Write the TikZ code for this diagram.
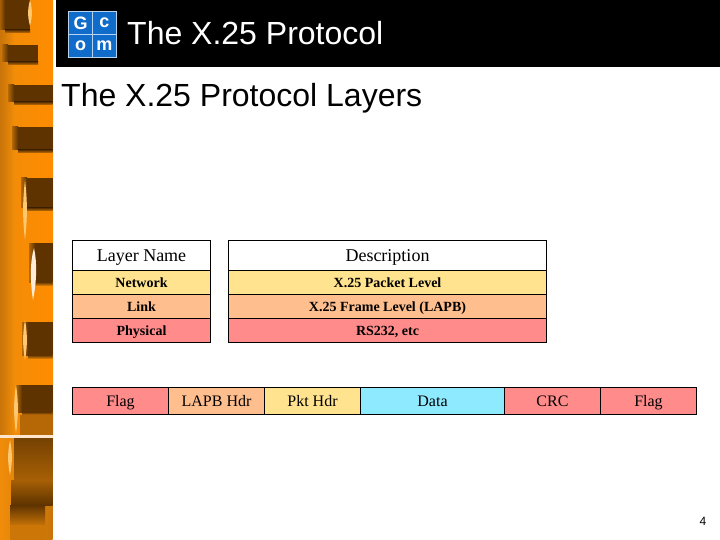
\documentclass[tikz,border=0pt]{standalone}
\usepackage{fontspec}
\setmainfont{Liberation Serif}
\setsansfont{Liberation Sans}
\definecolor{cyel}{HTML}{FFE38E}
\definecolor{cpea}{HTML}{FFBE8E}
\definecolor{cred}{HTML}{FF8B8B}
\definecolor{ccya}{HTML}{8EEBFF}
\definecolor{corg}{HTML}{F08C0A}
\definecolor{cmid}{HTML}{C87408}
\definecolor{cdrk}{HTML}{5E3300}
\definecolor{cblu}{HTML}{0F6CCB}
\definecolor{cpal}{HTML}{FFC870}
\tikzset{
 x=1pt,y=-1pt,
 cellbox/.style={draw=black,line width=1pt},
 headtext/.style={font=\fontsize{18}{20}\selectfont\rmfamily,anchor=base,inner sep=0pt},
 rowtext/.style={font=\fontsize{14}{16}\selectfont\rmfamily\bfseries,anchor=base,inner sep=0pt},
 frametext/.style={font=\fontsize{16}{18}\selectfont\rmfamily,anchor=base,inner sep=0pt},
 titletext/.style={font=\fontsize{32}{36}\selectfont\sffamily,inner sep=0pt,anchor=base west},
 logotext/.style={font=\fontsize{18}{18}\selectfont\sffamily\bfseries,text=white,inner sep=0pt},
}
% filled table cell; #1 name, then corners, then fill
\newcommand{\cell}[6]{%
 \path[cellbox,fill=#6] (#2,#3) rectangle (#4,#5);
 \coordinate (#1) at ({(#2+#4)/2},#5);}
% dark band with a soft left edge
\newcommand{\sband}[4]{%
 \shade[left color=corg!60!cdrk,right color=cdrk] (#1-6,#2) rectangle (#1,#4);
 \fill[cdrk] (#1,#2) rectangle (#3,#4);
 \shade[top color=cdrk,bottom color=cmid] (#1,#4) rectangle (#3,#4+3);}
\newcommand{\streak}[4]{%
 \fill[#4] (#1,#2) .. controls (#1+2.5,#2+#3*0.35) and (#1+2.5,#2+#3*0.65) .. (#1,#2+#3)
  .. controls (#1-2.5,#2+#3*0.65) and (#1-2.5,#2+#3*0.35) .. (#1,#2) -- cycle;}
\begin{document}
\begin{tikzpicture}
\useasboundingbox (0,0) rectangle (720,540);
\fill[white] (0,0) rectangle (720,540);
% sidebar
\shade[left color=corg,right color=orange!90!yellow] (0,0) rectangle (53,435);
\shade[left color=cmid,right color=corg] (0,0) rectangle (14,240);
\shade[left color=cmid,right color=corg] (0,240) rectangle (14,435);
\sband{5}{0}{30}{30}
\sband{8}{45}{38}{62}
\sband{14}{85}{52.5}{102}
\sband{18}{127}{52.5}{150}
\sband{27}{178}{52.5}{208}
\sband{35}{243}{52.5}{282}
\sband{28}{322}{52.5}{355}
\sband{22}{385}{52.5}{412}
\fill[cdrk!40!corg] (20,415) rectangle (52.5,435);
% lower part of the sidebar
\shade[left color=corg,right color=cmid] (0,437) rectangle (52.5,540);
\shade[top color=cdrk!85!corg,bottom color=cdrk!50!corg] (14,437) rectangle (52.5,480);
\shade[top color=cdrk!50!corg,bottom color=cdrk] (11,480) rectangle (52.5,505);
\shade[top color=cdrk,bottom color=cdrk!30!corg] (10,505) rectangle (45,525);
\fill[cdrk!25!corg] (10,525) rectangle (45,540);
% highlights
\streak{30}{0}{26}{cpal}
\streak{25}{180}{60}{cpal}
\fill[white!85!orange] (34,248) .. controls (37,262) and (37,280) .. (33,300) .. controls (30,280) and (30,262) .. (34,248) -- cycle;
\streak{25}{320}{40}{cpal}
\streak{16}{385}{48}{cpal}
\streak{10}{440}{35}{cpal}
\fill[orange!20!white] (0,434.5) rectangle (52.5,437.5);
% header
\fill[black] (56,0) rectangle (720,67);
% logo
\fill[cblu,draw=white!70!cblu,line width=.8pt] (68.5,11.5) rectangle (116.5,57);
\draw[white!70!cblu,line width=.8pt] (92.5,11.5) -- (92.5,57) (68.5,34) -- (116.5,34);
\node[logotext] (lg) at (80.5,23) {G};
\node[logotext] (lc) at (104.5,23) {c};
\node[logotext] (lo) at (80.5,46) {o};
\node[logotext] (lm) at (104.5,46) {m};
\node[titletext,text=white] (title) at (127,45) {The X.25 Protocol};
\node[titletext,text=black] (sub) at (61,107) {The X.25 Protocol Layers};
% left table
\cell{a0}{72.5}{240.5}{210.5}{270.5}{white}
\cell{a1}{72.5}{270.5}{210.5}{294.5}{cyel}
\cell{a2}{72.5}{294.5}{210.5}{318.5}{cpea}
\cell{a3}{72.5}{318.5}{210.5}{342.5}{cred}
\node[headtext] (ta0) at ([yshift=8.7pt]a0) {Layer Name};
\node[rowtext] (ta1) at ([yshift=7.5pt]a1) {Network};
\node[rowtext] (ta2) at ([yshift=7.5pt]a2) {Link};
\node[rowtext] (ta3) at ([yshift=7.5pt]a3) {Physical};
% right table
\cell{b0}{228.5}{240.5}{546.5}{270.5}{white}
\cell{b1}{228.5}{270.5}{546.5}{294.5}{cyel}
\cell{b2}{228.5}{294.5}{546.5}{318.5}{cpea}
\cell{b3}{228.5}{318.5}{546.5}{342.5}{cred}
\node[headtext] (tb0) at ([yshift=8.7pt]b0) {Description};
\node[rowtext] (tb1) at ([yshift=7.5pt]b1) {X.25 Packet Level};
\node[rowtext] (tb2) at ([yshift=7.5pt]b2) {X.25 Frame Level (LAPB)};
\node[rowtext] (tb3) at ([yshift=7.5pt]b3) {RS232, etc};
% frame
\cell{f1}{72.5}{387.5}{168.5}{414.5}{cred}
\cell{f2}{168.5}{387.5}{264.5}{414.5}{cpea}
\cell{f3}{264.5}{387.5}{360.5}{414.5}{cyel}
\cell{f4}{360.5}{387.5}{504.5}{414.5}{ccya}
\cell{f5}{504.5}{387.5}{600.5}{414.5}{cred}
\cell{f6}{600.5}{387.5}{696.5}{414.5}{cred}
\node[frametext] (t1) at ([yshift=8.5pt]f1) {Flag};
\node[frametext] (t2) at ([yshift=8.5pt]f2) {LAPB Hdr};
\node[frametext] (t3) at ([yshift=8.5pt]f3) {Pkt Hdr};
\node[frametext] (t4) at ([yshift=8.5pt]f4) {Data};
\node[frametext] (t5) at ([yshift=8.5pt]f5) {CRC};
\node[frametext] (t6) at ([yshift=8.5pt]f6) {Flag};
\node[font=\fontsize{12}{14}\selectfont\sffamily,inner sep=0pt] (pg) at (703,521.5) {4};
\end{tikzpicture}
\end{document}
